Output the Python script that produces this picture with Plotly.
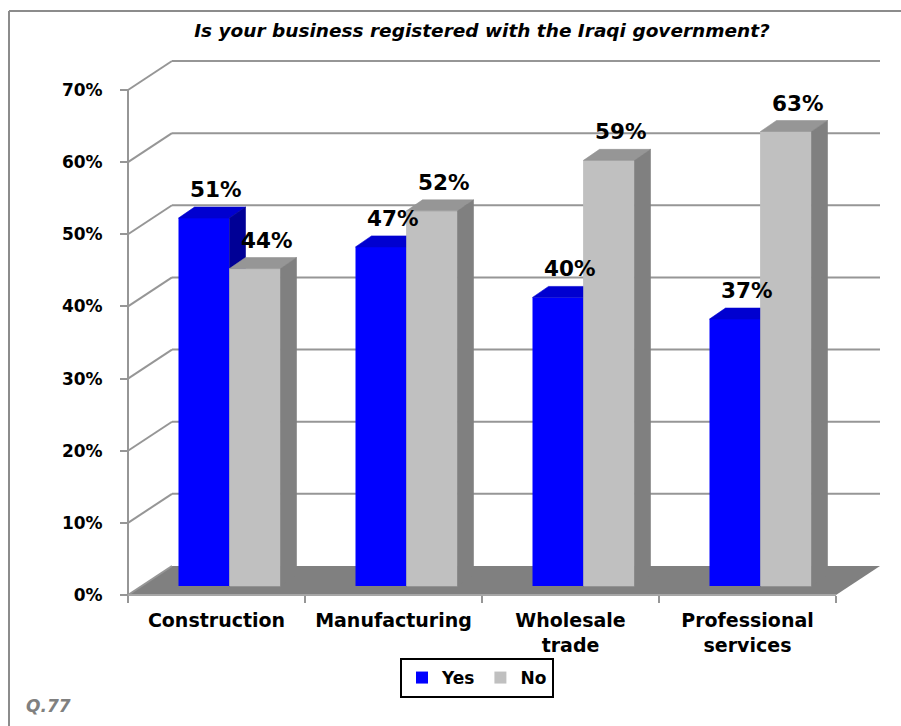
import plotly.graph_objects as go

# ---- data -------------------------------------------------------------
categories = ["Construction", "Manufacturing", "Wholesale trade", "Professional services"]
category_labels = ["Construction", "Manufacturing", "Wholesale<br>trade", "Professional<br>services"]
yes_values = [51, 47, 40, 37]
no_values = [44, 52, 59, 63]
y_tickvals = [0, 10, 20, 30, 40, 50, 60, 70]
y_ticktext = [f"{v}%" for v in y_tickvals]

# ---- styling ----------------------------------------------------------
FONT = "DejaVu Sans"
YES_FRONT, YES_TOP, YES_SIDE = "#0000FF", "#0000D0", "#000096"
NO_FRONT, NO_TOP, NO_SIDE = "#C0C0C0", "#969696", "#808080"
FLOOR = "#808080"
GRID = "#969696"

# ---- page / plot-area geometry (pixels) -------------------------------
W, H = 901, 726
ML, MR, MT, MB = 112, 8, 50, 104
PW, PH = W - ML - MR, H - MT - MB
AXIS_X_PX = 128          # front y-axis
ZERO_PX = 595            # 0% on the front plane
CAT_PX = 177.0           # one category slot
PCT_PX = 505.0 / 70.0    # one percentage point

def px_to_data_x(px):
    return -0.5 + (px - AXIS_X_PX) / CAT_PX

def px_to_data_y(py):
    return (ZERO_PX - py) / PCT_PX

def paper_x(px):
    return (px - ML) / PW

def paper_y(py):
    return (H - MB - py) / PH

x_range = [px_to_data_x(ML), px_to_data_x(W - MR)]
y_range = [px_to_data_y(H - MB), px_to_data_y(MT)]

def ddx(px):
    return px / CAT_PX

def ddy(px):
    return px / PCT_PX

# oblique projection offsets
WALL_DX, WALL_DY = ddx(44), ddy(29)      # back wall depth
BAR_DX, BAR_DY = ddx(13), ddy(9)         # bars' front plane
DEPTH_DX, DEPTH_DY = ddx(16), ddy(11)    # bar depth
BAR_W = ddx(51)

n = len(categories)
x_left_edge, x_right_edge = -0.5, n - 0.5
pair_x = [i + BAR_DX for i in range(n)]

fig = go.Figure()

# front faces as real bars
fig.add_trace(go.Bar(
    name="Yes", x=pair_x, y=yes_values, base=BAR_DY, width=BAR_W, offset=-BAR_W,
    marker=dict(color=YES_FRONT, line=dict(width=0)),
    customdata=categories, hovertemplate="%{customdata}<br>Yes: %{y}%<extra></extra>",
))
fig.add_trace(go.Bar(
    name="No", x=pair_x, y=no_values, base=BAR_DY, width=BAR_W, offset=0,
    marker=dict(color=NO_FRONT, line=dict(width=0)),
    customdata=categories, hovertemplate="%{customdata}<br>No: %{y}%<extra></extra>",
))


def faces(values, side):
    """Top, side and front polygons for one series (None-separated)."""
    top_x, top_y, side_x, side_y, front_x, front_y = [], [], [], [], [], []
    for i, v in enumerate(values):
        left = pair_x[i] - BAR_W if side == "yes" else pair_x[i]
        right = left + BAR_W
        top = BAR_DY + v
        top_x += [left, left + DEPTH_DX, right + DEPTH_DX, right, left, None]
        top_y += [top, top + DEPTH_DY, top + DEPTH_DY, top, top, None]
        side_x += [right, right + DEPTH_DX, right + DEPTH_DX, right, right, None]
        side_y += [BAR_DY, BAR_DY + DEPTH_DY, top + DEPTH_DY, top, BAR_DY, None]
        front_x += [left, left, right, right, left, None]
        front_y += [BAR_DY, top, top, BAR_DY, BAR_DY, None]
    return (top_x, top_y), (side_x, side_y), (front_x, front_y)


def poly_trace(xy, color):
    return go.Scatter(
        x=xy[0], y=xy[1], mode="lines", fill="toself", fillcolor=color,
        line=dict(width=0.6, color=color), hoverinfo="skip", showlegend=False,
    )


yes_top, yes_side, _ = faces(yes_values, "yes")
no_top, no_side, no_front = faces(no_values, "no")
fig.add_trace(poly_trace(yes_top, YES_TOP))
fig.add_trace(poly_trace(yes_side, YES_SIDE))
fig.add_trace(poly_trace(no_front, NO_FRONT))   # keeps the grey bar in front of the blue faces
fig.add_trace(poly_trace(no_top, NO_TOP))
fig.add_trace(poly_trace(no_side, NO_SIDE))

# value labels above each bar's top face
for series, values in (("yes", yes_values), ("no", no_values)):
    for i, v in enumerate(values):
        left = pair_x[i] - BAR_W if series == "yes" else pair_x[i]
        fig.add_annotation(
            x=left + BAR_W / 2 + DEPTH_DX / 2 + ddx(3), y=BAR_DY + v + DEPTH_DY,
            text=f"{v}%", showarrow=False, yanchor="bottom", yshift=3,
            font=dict(family=FONT, size=21.5, color="black", weight="bold"),
        )

# ---- walls, floor and axis lines ---------------------------------------
shapes = []
line_style = dict(color=GRID, width=2)
for v in y_tickvals[1:]:
    # diagonal on the side wall, then across the back wall
    shapes.append(dict(type="line", xref="x", yref="y", layer="below",
                       x0=x_left_edge, y0=v, x1=x_left_edge + WALL_DX, y1=v + WALL_DY,
                       line=line_style))
    shapes.append(dict(type="line", xref="x", yref="y", layer="below",
                       x0=x_left_edge + WALL_DX, y0=v + WALL_DY,
                       x1=x_right_edge + WALL_DX, y1=v + WALL_DY, line=line_style))
floor_path = (f"M{x_left_edge},0 L{x_left_edge + WALL_DX},{WALL_DY} "
              f"L{x_right_edge + WALL_DX},{WALL_DY} L{x_right_edge},0 Z")
shapes.append(dict(type="path", xref="x", yref="y", layer="below", path=floor_path,
                   fillcolor=FLOOR, line=dict(width=0)))
shapes.append(dict(type="line", xref="x", yref="y", layer="below",
                   x0=x_left_edge, y0=0, x1=x_left_edge + WALL_DX, y1=WALL_DY,
                   line=line_style))
# front axis lines
shapes.append(dict(type="line", xref="x", yref="y", x0=x_left_edge, y0=0,
                   x1=x_left_edge, y1=y_tickvals[-1], line=dict(color=GRID, width=2)))
shapes.append(dict(type="line", xref="x", yref="y", x0=x_left_edge, y0=0,
                   x1=x_right_edge, y1=0, line=dict(color="#A6A6A6", width=2)))
# outer frame
shapes.append(dict(type="line", xref="paper", yref="paper",
                   x0=paper_x(9), y0=paper_y(11), x1=paper_x(W + 5), y1=paper_y(11),
                   line=dict(color="#8C8C8C", width=2)))
shapes.append(dict(type="line", xref="paper", yref="paper",
                   x0=paper_x(9), y0=paper_y(11), x1=paper_x(9), y1=paper_y(H + 5),
                   line=dict(color="#8C8C8C", width=2)))

fig.add_annotation(
    xref="paper", yref="paper", x=paper_x(24), y=paper_y(706), xanchor="left", yanchor="middle",
    text="<i>Q.77</i>", showarrow=False,
    font=dict(family=FONT, size=17, color="#808080", weight="bold"),
)

fig.update_layout(
    width=W, height=H,
    margin=dict(l=ML, r=MR, t=MT, b=MB, pad=0, autoexpand=False),
    paper_bgcolor="white", plot_bgcolor="white",
    barmode="overlay",
    shapes=shapes,
    title=dict(
        text="<i>Is your business registered with the Iraqi government?</i>",
        x=482 / W, xanchor="center", xref="container",
        y=1 - 31 / H, yanchor="middle", yref="container",
        font=dict(family=FONT, size=18.5, color="black", weight="bold"),
    ),
    xaxis=dict(
        range=x_range, anchor="free", position=paper_y(ZERO_PX),
        showgrid=False, zeroline=False, showline=False,
        tickmode="array", tickvals=list(range(n)), ticktext=category_labels,
        ticks="", ticklabelstandoff=12,
        tickfont=dict(family=FONT, size=19, color="black", weight="bold"),
        minor=dict(tickmode="array", tickvals=[i - 0.5 for i in range(n + 1)],
                   ticks="outside", ticklen=7, tickwidth=2, tickcolor=GRID, showgrid=False),
        fixedrange=True,
    ),
    yaxis=dict(
        range=y_range, anchor="free", position=paper_x(AXIS_X_PX),
        showgrid=False, zeroline=False, showline=False,
        tickmode="array", tickvals=y_tickvals, ticktext=y_ticktext,
        ticks="outside", ticklen=8, tickwidth=2, tickcolor=GRID, ticklabelstandoff=14,
        tickfont=dict(family=FONT, size=17, color="black", weight="bold"),
        fixedrange=True,
    ),
    legend=dict(
        orientation="h", xref="paper", yref="paper",
        x=paper_x(477), xanchor="center", y=paper_y(678), yanchor="middle",
        bordercolor="black", borderwidth=2, bgcolor="white",
        font=dict(family=FONT, size=17, color="black", weight="bold"),
        itemwidth=30, tracegroupgap=0,
    ),
    showlegend=True,
)

fig.write_html("out.html")
